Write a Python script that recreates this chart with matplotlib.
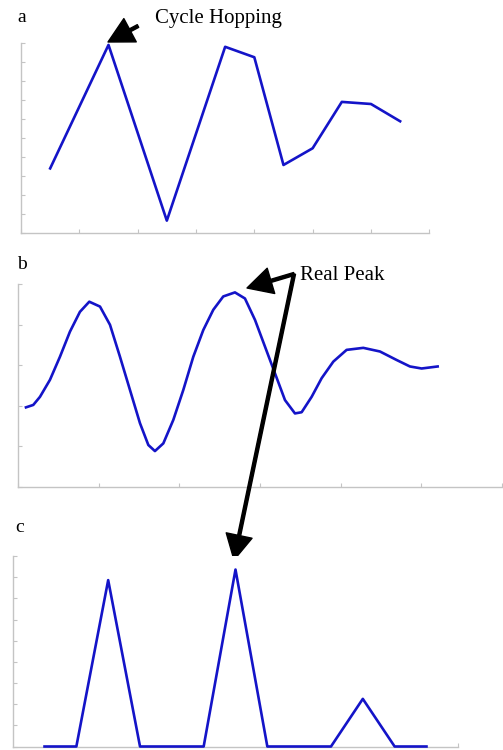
import matplotlib.pyplot as plt

# Panel a: coarse estimate with cycle hopping
a_x = [1, 3, 5, 7, 8, 9, 10, 11, 12, 13]
a_y = [3.4, 9.9, 0.65, 9.8, 9.25, 3.58, 4.46, 6.9, 6.79, 5.88]

# Panel b: smooth correlation curve
b_x = [0.095, 0.186, 0.269, 0.393, 0.517, 0.641, 0.765, 0.881, 1.014, 1.138,
       1.262, 1.386, 1.510, 1.614, 1.696, 1.800, 1.924, 2.048, 2.172, 2.296,
       2.420, 2.544, 2.689, 2.813, 2.938, 3.062, 3.186, 3.310, 3.434, 3.517,
       3.641, 3.765, 3.910, 4.075, 4.282, 4.489, 4.696, 4.861, 5.006, 5.205]
b_y = [1.96, 2.02, 2.22, 2.64, 3.21, 3.83, 4.32, 4.57, 4.45, 4.00,
       3.21, 2.39, 1.57, 1.03, 0.88, 1.07, 1.65, 2.39, 3.21, 3.87,
       4.37, 4.70, 4.80, 4.65, 4.12, 3.46, 2.80, 2.14, 1.81, 1.84,
       2.22, 2.68, 3.09, 3.38, 3.43, 3.34, 3.13, 2.97, 2.92, 2.97]

# Panel c: detected peaks
c_x = list(range(13))
c_y = [0, 0, 7.86, 0, 0, 0, 8.36, 0, 0, 0, 2.25, 0, 0]

W, H = 503, 750
line_color = '#1414c8'
spine_color = '#c4c4c4'
serif = 'Liberation Serif'

fig = plt.figure(figsize=(W / 100, H / 100), dpi=100)


def px_axes(left, top, right, bottom):
    return fig.add_axes([left / W, 1 - bottom / H, (right - left) / W, (bottom - top) / H])


def style(ax):
    for s in ['top', 'right']:
        ax.spines[s].set_visible(False)
    for s in ['left', 'bottom']:
        ax.spines[s].set_color(spine_color)
        ax.spines[s].set_linewidth(1.0)
    ax.tick_params(direction='in', length=3, width=0.8, color=spine_color,
                   labelleft=False, labelbottom=False)


ax_a = px_axes(21, 43, 429.3, 233)
ax_a.plot(a_x, a_y, color=line_color, lw=1.9, clip_on=False)
ax_a.set_xlim(0, 14)
ax_a.set_ylim(0, 10)
ax_a.set_xticks(range(0, 15, 2))
ax_a.set_yticks(range(0, 11))
style(ax_a)

ax_b = px_axes(18.3, 284.3, 501.7, 486.7)
ax_b.plot(b_x, b_y, color=line_color, lw=1.9, clip_on=False)
ax_b.set_xlim(0, 6)
ax_b.set_ylim(0, 5)
ax_b.set_xticks(range(0, 7))
ax_b.set_yticks(range(0, 6))
style(ax_b)

ax_c = px_axes(12.7, 556, 458.3, 746.5)
ax_c.plot(c_x, c_y, color=line_color, lw=1.9, clip_on=False, zorder=5)
ax_c.set_xlim(-1, 13)
ax_c.set_ylim(0, 9)
ax_c.set_xticks([13])
ax_c.set_yticks(range(0, 10))
style(ax_c)

# panel letters and labels
fig.text(17 / W, 1 - 18 / H, 'a', family=serif, fontsize=14, va='center', ha='left')
fig.text(17 / W, 1 - 265 / H, 'b', family=serif, fontsize=14, va='center', ha='left')
fig.text(15 / W, 1 - 528 / H, 'c', family=serif, fontsize=14, va='center', ha='left')


def fp(x, y):
    return (x, H - y)


arrow_kw = dict(facecolor='black', edgecolor='black', width=2.2, headwidth=19,
                headlength=18, shrink=0)

fig.text(155 / W, 1 - 18 / H, 'Cycle Hopping', family=serif, fontsize=15,
         va='center', ha='left')
ax_a.annotate('', xy=fp(108, 42), xytext=fp(138, 26), xycoords='figure pixels',
              textcoords='figure pixels', arrowprops=arrow_kw, annotation_clip=False)

fig.text(300 / W, 1 - 275 / H, 'Real Peak', family=serif, fontsize=15,
         va='center', ha='left')
ax_b.annotate('', xy=fp(247, 288), xytext=fp(294, 274), xycoords='figure pixels',
              textcoords='figure pixels', arrowprops=arrow_kw, annotation_clip=False)
ax_b.annotate('', xy=fp(234, 560), xytext=fp(294, 274), xycoords='figure pixels',
              textcoords='figure pixels', arrowprops=arrow_kw, annotation_clip=False)

fig.savefig('out.png', dpi=100)
